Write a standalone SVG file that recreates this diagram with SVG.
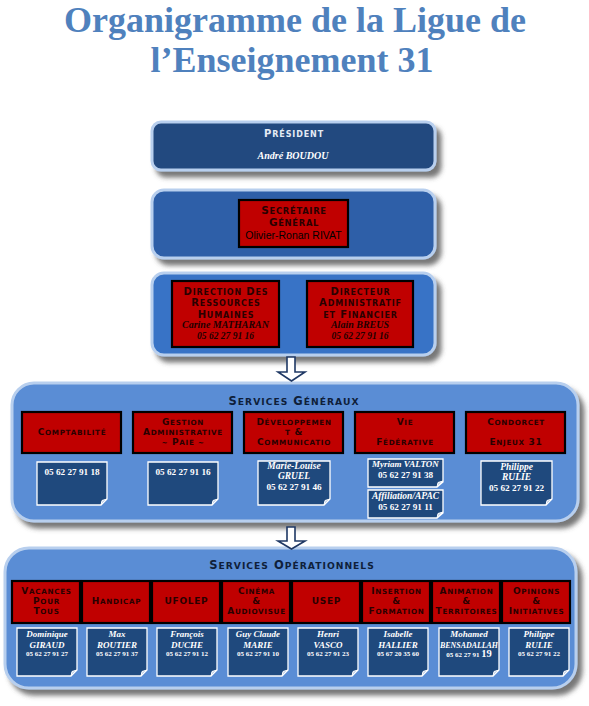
<svg xmlns="http://www.w3.org/2000/svg" width="589" height="706" viewBox="0 0 589 706">
<defs>
<filter id="sh" x="-10%" y="-20%" width="125%" height="150%">
<feDropShadow dx="5" dy="6" stdDeviation="2.5" flood-color="#4a4a4a" flood-opacity="0.75"/>
</filter>
<symbol id="fold" overflow="visible"><path d="M0,0 L-5,1.5 L-6,6 Z" fill="#c9d6ea" stroke="#fff" stroke-width="1"/></symbol>
</defs>
<style>
.ttl{font-family:"Liberation Serif",serif;font-weight:bold;font-size:36px;fill:#4f81bd;text-anchor:middle}
.box{stroke:#b8cfee;stroke-width:3}
.red{fill:#c00000;stroke:#000;stroke-width:2.2}
.sc{font-family:"DejaVu Sans",sans-serif;font-weight:bold;text-anchor:middle;fill:#2a0000;font-size:9px;letter-spacing:0.7px}
.hdr{font-family:"DejaVu Sans",sans-serif;font-weight:bold;text-anchor:middle;fill:#0f1f3a;font-size:11.5px;letter-spacing:1px}
.s{font-size:0.8em}
.nm{font-family:"Liberation Serif",serif;font-weight:bold;font-style:italic;text-anchor:middle;fill:#fff}
.ph{font-family:"Liberation Serif",serif;font-weight:bold;text-anchor:middle;fill:#fff}
.dk{fill:#200000}
.card{fill:#1f497d;stroke:#fff;stroke-width:1.3}
.arr{fill:#fff;stroke:#1f3864;stroke-width:1.6;stroke-linejoin:miter}
</style>
<rect width="589" height="706" fill="#fff"/>

<g id="title">
<text x="295" y="32" class="ttl">Organigramme de la Ligue de</text>
<text x="292" y="72" class="ttl">l’Enseignement 31</text>
</g>

<g id="president">
<rect x="152" y="122" width="283" height="48" rx="9" fill="#23497f" class="box" filter="url(#sh)"/>
<text x="294" y="137" class="sc" style="font-size:10px;letter-spacing:0.9px;fill:#e4eaf4">P<tspan class="s">RÉSIDENT</tspan></text>
<text x="293" y="159" class="nm" style="font-size:10px">André BOUDOU</text>
</g>

<g id="secretaire">
<rect x="152" y="190" width="283" height="68" rx="12" fill="#2d5fa8" class="box" filter="url(#sh)"/>
<rect x="239" y="200" width="109" height="47" class="red"/>
<text x="294" y="214" class="sc" style="font-size:10.5px">S<tspan class="s">ECRÉTAIRE</tspan></text>
<text x="294" y="226" class="sc" style="font-size:10.5px">G<tspan class="s">ÉNÉRAL</tspan></text>
<text x="293.5" y="239" style="font-family:'Liberation Sans',sans-serif;font-size:10.5px;text-anchor:middle;fill:#000">Olivier-Ronan RIVAT</text>
</g>

<g id="directions">
<rect x="152" y="273" width="283" height="82" rx="12" fill="#3773c6" class="box" filter="url(#sh)"/>
</g>
<g id="drh">
<rect x="172" y="281" width="107" height="66" class="red"/>
<text x="226" y="294.5" class="sc" style="font-size:10px;letter-spacing:0.85px">D<tspan class="s">IRECTION</tspan> D<tspan class="s">ES</tspan></text>
<text x="226" y="306" class="sc" style="font-size:10px;letter-spacing:0.85px">R<tspan class="s">ESSOURCES</tspan></text>
<text x="226" y="317.5" class="sc" style="font-size:10px;letter-spacing:0.85px">H<tspan class="s">UMAINES</tspan></text>
<text x="225.5" y="328" class="nm dk" style="font-size:10px">Carine MATHARAN</text>
<text x="225.5" y="339" class="nm dk" style="font-size:9.5px">05 62 27 91 16</text>
</g>
<g id="daf">
<rect x="307" y="281" width="106" height="66" class="red"/>
<text x="360.5" y="294.5" class="sc" style="font-size:10px;letter-spacing:0.85px">D<tspan class="s">IRECTEUR</tspan></text>
<text x="360.5" y="306" class="sc" style="font-size:10px;letter-spacing:0.85px">A<tspan class="s">DMINISTRATIF</tspan></text>
<text x="360.5" y="317.5" class="sc" style="font-size:10px;letter-spacing:0.85px"><tspan class="s">ET</tspan> F<tspan class="s">INANCIER</tspan></text>
<text x="360" y="328" class="nm dk" style="font-size:10px">Alain BREUS</text>
<text x="360" y="339" class="nm dk" style="font-size:9.5px">05 62 27 91 16</text>
</g>

<g id="services-generaux">
<rect x="12" y="383" width="566" height="138" rx="22" fill="#5a8dd5" class="box" filter="url(#sh)"/>
<text x="294" y="405" class="hdr">S<tspan class="s">ERVICES</tspan> G<tspan class="s">ÉNÉRAUX</tspan></text>
</g>
<g id="sg-comptabilite">
<rect x="22" y="412" width="99" height="41" class="red"/>
<text x="72" y="435" class="sc">C<tspan class="s">OMPTABILITÉ</tspan></text>
<path d="M37,462 H107 V499 L101,505 H37 Z" class="card"/>
<use href="#fold" x="107" y="499"/>
<text x="72" y="475" class="ph" style="font-size:9.2px">05 62 27 91 18</text>
</g>
<g id="sg-gestion">
<rect x="133" y="412" width="99" height="41" class="red"/>
<text x="183" y="425" class="sc">G<tspan class="s">ESTION</tspan></text>
<text x="183" y="435" class="sc">A<tspan class="s">DMINISTRATIVE</tspan></text>
<text x="183" y="445" class="sc"><tspan class="s">~</tspan> P<tspan class="s">AIE ~</tspan></text>
<path d="M148,462 H218 V499 L212,505 H148 Z" class="card"/>
<use href="#fold" x="218" y="499"/>
<text x="183" y="475" class="ph" style="font-size:9.2px">05 62 27 91 16</text>
</g>
<g id="sg-developpement">
<rect x="244" y="412" width="99" height="41" class="red"/>
<text x="294" y="425" class="sc">D<tspan class="s">ÉVELOPPEMEN</tspan></text>
<text x="294" y="435" class="sc"><tspan class="s">T</tspan> &amp;</text>
<text x="294" y="445" class="sc">C<tspan class="s">OMMUNICATIO</tspan></text>
<path d="M258,461 H330 V499 L324,505 H258 Z" class="card"/>
<use href="#fold" x="330" y="499"/>
<text x="294" y="469" class="nm" style="font-size:9.5px">Marie-Louise</text>
<text x="294" y="479" class="nm" style="font-size:9.5px">GRUEL</text>
<text x="294" y="490" class="ph" style="font-size:9.2px">05 62 27 91 46</text>
</g>
<g id="sg-vie-federative">
<rect x="355" y="412" width="99" height="41" class="red"/>
<text x="405" y="425" class="sc">V<tspan class="s">IE</tspan></text>
<text x="405" y="445" class="sc">F<tspan class="s">ÉDÉRATIVE</tspan></text>
<path d="M368,459 H443 V482 L437,487 H368 Z" class="card"/>
<use href="#fold" x="443" y="481"/>
<text x="405.5" y="466.5" class="nm" style="font-size:9px">Myriam VALTON</text>
<text x="405.5" y="477.5" class="ph" style="font-size:9.2px">05 62 27 91 38</text>
<path d="M368,490 H443 V513 L437,518 H368 Z" class="card"/>
<use href="#fold" x="443" y="512"/>
<text x="405.5" y="498.5" class="nm" style="font-size:9.5px">Affiliation/APAC</text>
<text x="405.5" y="510" class="ph" style="font-size:9.2px">05 62 27 91 11</text>
</g>
<g id="sg-condorcet">
<rect x="466" y="412" width="99" height="41" class="red"/>
<text x="516" y="425" class="sc">C<tspan class="s">ONDORCET</tspan></text>
<text x="516" y="445" class="sc">E<tspan class="s">NJEUX</tspan> 31</text>
<path d="M481,461 H552 V499 L546,505 H481 Z" class="card"/>
<use href="#fold" x="552" y="499"/>
<text x="516.5" y="470" class="nm" style="font-size:9.5px">Philippe</text>
<text x="516.5" y="479.5" class="nm" style="font-size:9.5px">RULIE</text>
<text x="516.5" y="490.5" class="ph" style="font-size:9.2px">05 62 27 91 22</text>
</g>

<g id="services-operationnels">
<rect x="5" y="548" width="571" height="140" rx="24" fill="#5a8dd5" class="box" filter="url(#sh)"/>
<text x="292" y="569" class="hdr">S<tspan class="s">ERVICES</tspan> O<tspan class="s">PÉRATIONNELS</tspan></text>
</g>
<g id="so-vacances">
<rect x="12" y="581" width="68" height="42" class="red"/>
<text x="46.5" y="594" class="sc">V<tspan class="s">ACANCES</tspan></text>
<text x="46.5" y="604" class="sc">P<tspan class="s">OUR</tspan></text>
<text x="46.5" y="614" class="sc">T<tspan class="s">OUS</tspan></text>
<path d="M17,628 H77 V670 L71,676 H17 Z" class="card"/>
<use href="#fold" x="77" y="670"/>
<text x="47" y="637" class="nm" style="font-size:9px">Dominique</text>
<text x="47" y="647.5" class="nm" style="font-size:9px">GIRAUD</text>
<text x="47" y="656" class="ph" style="font-size:7px">05 62 27 91 27</text>
</g>
<g id="so-handicap">
<rect x="82" y="581" width="68" height="42" class="red"/>
<text x="116.5" y="604" class="sc">H<tspan class="s">ANDICAP</tspan></text>
<path d="M87,628 H147 V670 L141,676 H87 Z" class="card"/>
<use href="#fold" x="147" y="670"/>
<text x="117" y="637" class="nm" style="font-size:9px">Max</text>
<text x="117" y="647.5" class="nm" style="font-size:9px">ROUTIER</text>
<text x="117" y="656" class="ph" style="font-size:7px">05 62 27 91 37</text>
</g>
<g id="so-ufolep">
<rect x="152" y="581" width="68" height="42" class="red"/>
<text x="186.5" y="604" class="sc">UFOLEP</text>
<path d="M157,628 H217 V670 L211,676 H157 Z" class="card"/>
<use href="#fold" x="217" y="670"/>
<text x="187" y="637" class="nm" style="font-size:9px">François</text>
<text x="187" y="647.5" class="nm" style="font-size:9px">DUCHE</text>
<text x="187" y="656" class="ph" style="font-size:7px">05 62 27 91 12</text>
</g>
<g id="so-cinema">
<rect x="222" y="581" width="68" height="42" class="red"/>
<text x="256.5" y="594" class="sc">C<tspan class="s">INÉMA</tspan></text>
<text x="256.5" y="604" class="sc">&amp;</text>
<text x="256.5" y="614" class="sc">A<tspan class="s">UDIOVISUE</tspan></text>
<path d="M228,628 H288 V670 L282,676 H228 Z" class="card"/>
<use href="#fold" x="288" y="670"/>
<text x="258" y="637" class="nm" style="font-size:9px">Guy Claude</text>
<text x="258" y="647.5" class="nm" style="font-size:9px">MARIE</text>
<text x="258" y="656" class="ph" style="font-size:7px">05 62 27 91 10</text>
</g>
<g id="so-usep">
<rect x="292" y="581" width="68" height="42" class="red"/>
<text x="326.5" y="604" class="sc">USEP</text>
<path d="M298,628 H358 V670 L352,676 H298 Z" class="card"/>
<use href="#fold" x="358" y="670"/>
<text x="328" y="637" class="nm" style="font-size:9px">Henri</text>
<text x="328" y="647.5" class="nm" style="font-size:9px">VASCO</text>
<text x="328" y="656" class="ph" style="font-size:7px">05 62 27 91 23</text>
</g>
<g id="so-insertion">
<rect x="362" y="581" width="68" height="42" class="red"/>
<text x="396.5" y="594" class="sc">I<tspan class="s">NSERTION</tspan></text>
<text x="396.5" y="604" class="sc">&amp;</text>
<text x="396.5" y="614" class="sc">F<tspan class="s">ORMATION</tspan></text>
<path d="M368,628 H428 V670 L422,676 H368 Z" class="card"/>
<use href="#fold" x="428" y="670"/>
<text x="398" y="637" class="nm" style="font-size:9px">Isabelle</text>
<text x="398" y="647.5" class="nm" style="font-size:9px">HALLIER</text>
<text x="398" y="656" class="ph" style="font-size:7px">05 67 20 35 60</text>
</g>
<g id="so-animation">
<rect x="432" y="581" width="68" height="42" class="red"/>
<text x="466.5" y="594" class="sc">A<tspan class="s">NIMATION</tspan></text>
<text x="466.5" y="604" class="sc">&amp;</text>
<text x="466.5" y="614" class="sc">T<tspan class="s">ERRITOIRES</tspan></text>
<path d="M439,628 H499 V670 L493,676 H439 Z" class="card"/>
<use href="#fold" x="499" y="670"/>
<text x="469" y="637" class="nm" style="font-size:9px">Mohamed</text>
<text x="469" y="647.5" class="nm" style="font-size:9px" textLength="58" lengthAdjust="spacingAndGlyphs">BENSADALLAH</text>
<text x="469" y="657" class="ph" style="font-size:7px">05 62 27 91 <tspan style="font-size:10.5px">19</tspan></text>
</g>
<g id="so-opinions">
<rect x="502" y="581" width="68" height="42" class="red"/>
<text x="536.5" y="594" class="sc">O<tspan class="s">PINIONS</tspan></text>
<text x="536.5" y="604" class="sc">&amp;</text>
<text x="536.5" y="614" class="sc">I<tspan class="s">NITIATIVES</tspan></text>
<path d="M509,628 H569 V670 L563,676 H509 Z" class="card"/>
<use href="#fold" x="569" y="670"/>
<text x="539" y="637" class="nm" style="font-size:9px">Philippe</text>
<text x="539" y="647.5" class="nm" style="font-size:9px">RULIE</text>
<text x="539" y="656" class="ph" style="font-size:7px">05 62 27 91 22</text>
</g>

<g id="connectors">
<path d="M287,357 H295 V372 H305 L291.5,381 L278,372 H287 Z" class="arr"/>
<path d="M287,527 H295 V541 H305 L291.5,549 L278,541 H287 Z" class="arr"/>
</g>
</svg>
